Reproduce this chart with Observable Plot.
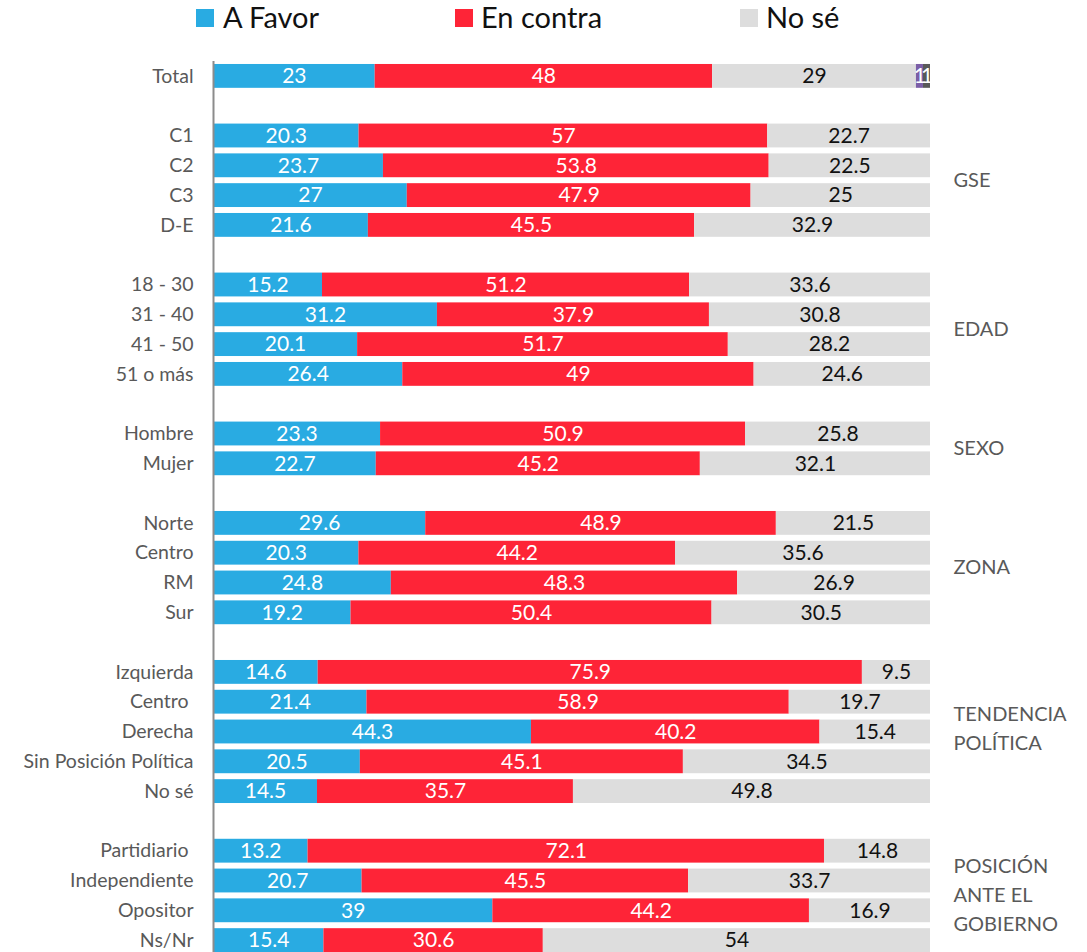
<!DOCTYPE html>
<html>
<head>
<meta charset="utf-8">
<script src="https://cdn.jsdelivr.net/npm/d3@7"></script>
<script src="https://cdn.jsdelivr.net/npm/@observablehq/plot@0.6"></script>
<style>
  html, body { margin: 0; padding: 0; background: #fff; overflow: hidden; }
  body { width: 1087px; height: 952px; position: relative; font-family: Lato, "Open Sans", sans-serif; }
  #legend { position: relative; height: 40px; }
  .sw { position: absolute; top: 9px; width: 18px; height: 18px; }
  .lt { position: absolute; top: -1px; font-size: 29px; line-height: 36px; color: #111; }
  #chart svg { display: block; }
</style>
</head>
<body>
<div id="legend"></div>
<div id="chart"></div>
<script>
// ---- data ----
const seriesNames = ["A Favor", "En contra", "No sé", "Extra 1", "Extra 2"];
const seriesColors = ["#29abe2", "#fe2437", "#dddddd", "#7b5ea7", "#595959"];

const categories = [
  "Total",
  "C1", "C2", "C3", "D-E",
  "18 - 30", "31 - 40", "41 - 50", "51 o más",
  "Hombre", "Mujer",
  "Norte", "Centro", "RM", "Sur",
  "Izquierda", "Centro\u00a0", "Derecha", "Sin Posición Política", "No sé",
  "Partidiario\u00a0", "Independiente", "Opositor", "Ns/Nr"
];
const categoryGroup = [
  "TOTAL",
  "GSE", "GSE", "GSE", "GSE",
  "EDAD", "EDAD", "EDAD", "EDAD",
  "SEXO", "SEXO",
  "ZONA", "ZONA", "ZONA", "ZONA",
  "TENDENCIA\nPOLÍTICA", "TENDENCIA\nPOLÍTICA", "TENDENCIA\nPOLÍTICA", "TENDENCIA\nPOLÍTICA", "TENDENCIA\nPOLÍTICA",
  "POSICIÓN\nANTE EL\nGOBIERNO", "POSICIÓN\nANTE EL\nGOBIERNO", "POSICIÓN\nANTE EL\nGOBIERNO", "POSICIÓN\nANTE EL\nGOBIERNO"
];
const groupLabels = ["GSE", "EDAD", "SEXO", "ZONA", "TENDENCIA\nPOLÍTICA", "POSICIÓN\nANTE EL\nGOBIERNO"];

const aFavor   = [23, 20.3, 23.7, 27, 21.6, 15.2, 31.2, 20.1, 26.4, 23.3, 22.7, 29.6, 20.3, 24.8, 19.2, 14.6, 21.4, 44.3, 20.5, 14.5, 13.2, 20.7, 39, 15.4];
const enContra = [48, 57, 53.8, 47.9, 45.5, 51.2, 37.9, 51.7, 49, 50.9, 45.2, 48.9, 44.2, 48.3, 50.4, 75.9, 58.9, 40.2, 45.1, 35.7, 72.1, 45.5, 44.2, 30.6];
const noSe     = [29, 22.7, 22.5, 25, 32.9, 33.6, 30.8, 28.2, 24.6, 25.8, 32.1, 21.5, 35.6, 26.9, 30.5, 9.5, 19.7, 15.4, 34.5, 49.8, 14.8, 33.7, 16.9, 54];
const extra1   = [1];   // Total only
const extra2   = [1];   // Total only

// ---- build table ----
const keyOf = i => categoryGroup[i] + "|" + categories[i];
const domain = [];
categories.forEach((c, i) => {
  if (i > 0 && categoryGroup[i] !== categoryGroup[i - 1]) domain.push("gap" + i);
  domain.push(keyOf(i));
});
const rows = [];
categories.forEach((c, i) => {
  const vals = [aFavor[i], enContra[i], noSe[i], extra1[i], extra2[i]];
  vals.forEach((v, s) => {
    if (v != null) rows.push({key: keyOf(i), series: seriesNames[s], value: v});
  });
});

// group label anchors
const groupRows = groupLabels.map(g => {
  const idx = categories.map((c, i) => i).filter(i => categoryGroup[i] === g);
  const mid = idx[Math.floor((idx.length - 1) / 2)];
  return {label: g, key: keyOf(mid), even: idx.length % 2 === 0};
});

// ---- layout ----
const W = 1087, H = 915, mTop = 21, mBottom = 0;
const step = (H - mTop - mBottom) / domain.length;

// legend
const legend = document.getElementById("legend");
const legPos = [[196, 223], [455, 481], [740, 766]];
legPos.forEach(([sx, tx], s) => {
  const sw = document.createElement("div");
  sw.className = "sw"; sw.style.left = sx + "px"; sw.style.background = seriesColors[s];
  legend.appendChild(sw);
  const t = document.createElement("div");
  t.className = "lt"; t.style.left = tx + "px"; t.textContent = seriesNames[s];
  legend.appendChild(t);
});

const stackOpts = {x: "value", y: "key", z: "series", offset: "normalize", order: null};
const groupTextOpts = {
  y: "key", text: "label", frameAnchor: "right", textAnchor: "start",
  dx: 23, lineHeight: 1.45, fontSize: 20, fill: "#595959"
};

const chart = Plot.plot({
  width: W,
  height: H,
  marginTop: mTop,
  marginBottom: mBottom,
  marginLeft: 213,
  marginRight: 157,
  style: {fontFamily: "Lato, 'Open Sans', sans-serif", background: "#fff"},
  x: {axis: null, domain: [0, 1]},
  y: {domain, paddingInner: 0.2, paddingOuter: 0.1, round: false, label: null},
  color: {domain: seriesNames, range: seriesColors},
  marks: [
    Plot.barX(rows, Plot.stackX({...stackOpts, fill: "series"})),
    Plot.text(rows, Plot.stackX({
      ...stackOpts, text: d => d.series !== "No sé" ? String(d.value) : "", fill: "white", fontSize: 21
    })),
    Plot.text(rows, Plot.stackX({
      ...stackOpts, text: d => d.series === "No sé" ? String(d.value) : "", fill: "#111", fontSize: 21
    })),
    Plot.axisY({
      tickSize: 0, tickPadding: 20, fontSize: 19.5, color: "#595959",
      tickFormat: d => d.startsWith("gap") ? "" : d.split("|")[1]
    }),
    Plot.ruleX([0], {stroke: "#8c8c8c", strokeWidth: 2}),
    Plot.text(groupRows.filter(d => !d.even && !d.label.includes("\n")), {...groupTextOpts, dy: -3}),
    Plot.text(groupRows.filter(d => !d.even && d.label.includes("\n")), {...groupTextOpts, dy: -6}),
    Plot.text(groupRows.filter(d => d.even), {...groupTextOpts, dy: step / 2 - 3})
  ]
});

document.getElementById("chart").appendChild(chart);
</script>
</body>
</html>
